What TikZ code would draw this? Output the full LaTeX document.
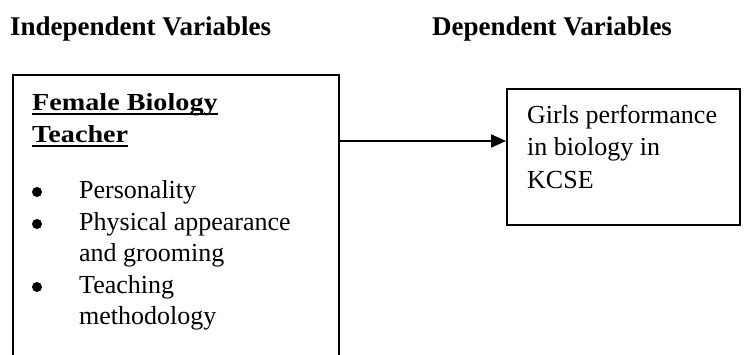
\documentclass[tikz,border=0pt]{standalone}
\usepackage{fontspec}
\setmainfont{Liberation Serif}
\newfontfamily\titlefont[FakeStretch=1.15]{Liberation Serif}
\usetikzlibrary{arrows.meta}
\newcommand\myul[1]{\setbox0\hbox{#1}\rlap{\rule[-4.8pt]{\wd0}{2pt}}\box0}
\tikzset{
  box/.style={draw, line width=2pt, rectangle, inner sep=0pt, anchor=north west},
  hdr/.style={anchor=base west, inner sep=0pt, font=\fontsize{27}{30}\selectfont\bfseries},
  txt/.style={anchor=base west, inner sep=0pt, font=\fontsize{26}{31}\selectfont},
  ttl/.style={anchor=base west, inner sep=0pt, font=\titlefont\fontsize{24.5}{32}\selectfont\bfseries},
  bul/.style={circle, fill, inner sep=0pt, minimum size=10pt},
  link/.style={line width=2pt, -{Triangle[length=15pt,width=13pt]}}
}
\begin{document}
\begin{tikzpicture}[x=1pt,y=-1pt]
\useasboundingbox (0,0) rectangle (744,354);
\clip (0,0) rectangle (744,354);
\node[hdr] (h1) at (10,35) {Independent Variables};
\node[hdr] (h2) at (432,35) {Dependent Variables};
% left box (runs off the bottom)
\node[box, minimum width=326pt, minimum height=320pt] (ind) at (12,74) {};
\node[ttl] (t1) at (32,110) {\myul{Female Biology}};
\node[ttl] (t2) at (32,142) {\myul{Teacher}};
\node[bul] (b1) at (37,192) {};
\node[txt] (l1) at (79,198) {Personality};
\node[bul] (b2) at (37,224) {};
\node[txt] (l2) at (79,230) {Physical appearance};
\node[txt] (l3) at (79,261.5) {and grooming};
\node[bul] (b3) at (37,287) {};
\node[txt] (l4) at (79,293) {Teaching};
\node[txt] (l5) at (79,324.5) {methodology};
% right box
\node[box, minimum width=233pt, minimum height=136pt] (dep) at (506,88) {};
\node[txt] (r1) at (527,123) {Girls performance};
\node[txt] (r2) at (527,155.5) {in biology in};
\node[txt] (r3) at (527,188) {KCSE};
\draw[link] ([yshift=-67pt]ind.north east) -- ([yshift=-53pt]dep.north west);
\end{tikzpicture}
\end{document}
